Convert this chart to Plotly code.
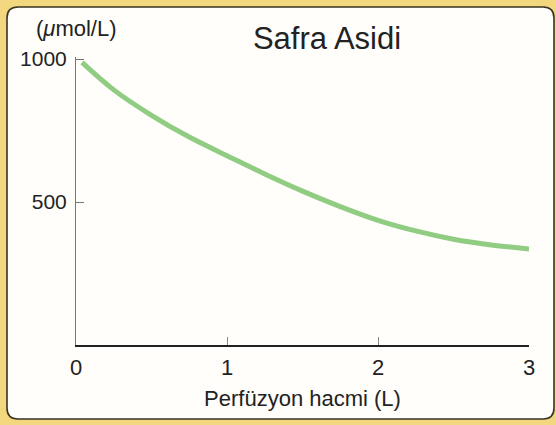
import plotly.graph_objects as go

# Data
volume_L = [0.04, 0.25, 0.5, 0.75, 1.0, 1.25, 1.5, 1.75, 2.0, 2.25, 2.5, 2.75, 3.0]
bile_acid_umol = [988, 892, 803, 727, 662, 598, 538, 484, 436, 399, 370, 350, 336]
y_tick_vals = [500, 1000]
x_tick_vals = [0, 1, 2, 3]

title_text = "Safra Asidi"
x_title = "Perfüzyon hacmi (L)"
y_unit = "(<i>\u03bc</i>mol/L)"

W, H = 556, 425
L, R, T, B = 76, 27, 57, 80
pw, ph = W - L - R, H - T - B

def px_x(p):
    return (p - L) / pw

def px_y(p):
    return (H - B - p) / ph

FONT = "Liberation Sans, Arial, Helvetica, sans-serif"
TXT = "#222222"

fig = go.Figure()
fig.add_trace(go.Scatter(
    x=volume_L, y=bile_acid_umol, mode="lines",
    line=dict(color="#90cd82", width=5, shape="spline", smoothing=1.0),
    hoverinfo="skip", showlegend=False,
))

# rounded panel
x0, x1 = px_x(7), px_x(554)
y0, y1 = px_y(419), px_y(7)
rx, ry = 11 / pw, 11 / ph
path = (f"M {x0+rx},{y1} L {x1-rx},{y1} Q {x1},{y1} {x1},{y1-ry} "
        f"L {x1},{y0+ry} Q {x1},{y0} {x1-rx},{y0} "
        f"L {x0+rx},{y0} Q {x0},{y0} {x0},{y0+ry} "
        f"L {x0},{y1-ry} Q {x0},{y1} {x0+rx},{y1} Z")
fig.add_shape(type="path", path=path, xref="paper", yref="paper",
              fillcolor="#fffefa", line=dict(color="#3a3324", width=1.6),
              layer="below")

fig.add_annotation(text=y_unit, xref="paper", yref="paper",
                   x=px_x(76), y=px_y(28), xanchor="center", yanchor="middle",
                   showarrow=False, font=dict(family=FONT, size=22, color=TXT))

fig.update_layout(
    width=W, height=H,
    margin=dict(l=L, r=R, t=T, b=B, pad=0),
    paper_bgcolor="#f2d77e",
    plot_bgcolor="rgba(0,0,0,0)",
    title=dict(text=title_text, xref="container", yref="container",
               x=327 / W, y=1 - 38 / H, xanchor="center", yanchor="middle",
               font=dict(family=FONT, size=31, color=TXT)),
    xaxis=dict(range=[0, 3], tickvals=x_tick_vals, ticks="inside", ticklen=8,
               tickcolor="#888888", tickwidth=1,
               showline=True, linecolor="#222222", linewidth=1.5,
               showgrid=False, zeroline=False,
               tickfont=dict(family=FONT, size=22, color=TXT),
               ticklabelstandoff=2,
               title=dict(text=x_title, standoff=11,
                          font=dict(family=FONT, size=22, color=TXT))),
    yaxis=dict(range=[0, 1007], tickvals=y_tick_vals, ticks="inside", ticklen=8,
               tickcolor="#777777", tickwidth=1,
               showline=True, linecolor="#777777", linewidth=1,
               showgrid=False, zeroline=False,
               tickfont=dict(family=FONT, size=21, color=TXT),
               ticklabelstandoff=4),
)

fig.write_html("out.html", config={"displayModeBar": False},
               post_script="document.body.style.margin='0';document.body.style.padding='0';")
